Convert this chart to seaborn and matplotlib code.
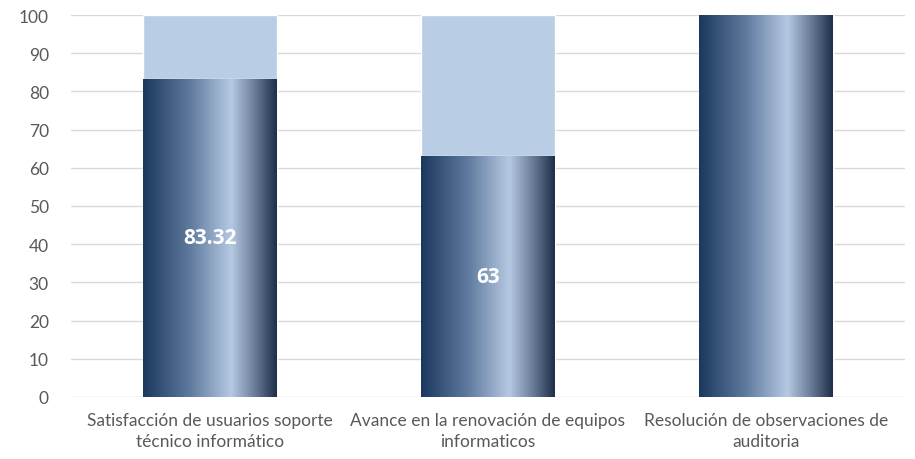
import numpy as np
import pandas as pd
import matplotlib
matplotlib.use("Agg")
import matplotlib.pyplot as plt
from matplotlib.colors import LinearSegmentedColormap
import seaborn as sns

categories = ["Satisfacción de usuarios soporte\ntécnico informático",
              "Avance en la renovación de equipos\ninformaticos",
              "Resolución de observaciones de\nauditoria"]
values = [83.32, 63, 100]
totals = [100, 100, 100]
labels = ["83.32", "63", ""]

sns.set_theme(style="white")
plt.rcParams['font.family'] = ['Lato', 'DejaVu Sans']

df = pd.DataFrame({"cat": categories, "value": values, "total": totals})

fig = plt.figure(figsize=(9.15, 4.6), dpi=100)
ax = fig.add_axes([0.0776, 0.1348, 0.9114, 0.8304])

sns.barplot(data=df, x="cat", y="total", color="#b9cde5", width=0.48,
            saturation=1, ax=ax, zorder=2)
sns.barplot(data=df, x="cat", y="value", color="#1f3864", width=0.48,
            saturation=1, ax=ax, zorder=3)

cmap = LinearSegmentedColormap.from_list("grad", [
    (0.0, (27/255, 56/255, 94/255)),
    (0.35, (95/255, 122/255, 158/255)),
    (0.66, (182/255, 201/255, 227/255)),
    (0.85, (100/255, 118/255, 145/255)),
    (1.0, (30/255, 46/255, 72/255)),
])
grad = np.linspace(0, 1, 256).reshape(1, -1)

n = len(categories)
value_patches = ax.patches[n:]
for p in value_patches:
    x0, y0 = p.get_x(), p.get_y()
    w, h = p.get_width(), p.get_height()
    im = ax.imshow(grad, cmap=cmap, aspect="auto", extent=(x0, x0 + w, y0, y0 + h),
                   zorder=4, interpolation="bicubic")
    im.set_clip_path(p)

for p, lab in zip(value_patches, labels):
    if lab:
        ax.text(p.get_x() + p.get_width() / 2, p.get_height() / 2, lab,
                ha="center", va="center", color="white", fontsize=15,
                fontweight="bold", zorder=6, family=['Open Sans', 'DejaVu Sans'])

ax.set_xlim(-0.5, n - 0.5)
ax.set_ylim(0, 100)
ax.set_yticks(np.arange(0, 101, 10))
ax.yaxis.grid(True, color="#d9d9d9", linewidth=1)
ax.set_axisbelow(True)
for s in ax.spines.values():
    s.set_visible(False)
ax.set_xlabel("")
ax.set_ylabel("")
ax.tick_params(axis="y", length=0, labelsize=12.5, labelcolor="#595959", pad=16)
ax.tick_params(axis="x", length=0, labelsize=12.5, labelcolor="#595959", pad=11)
for t in ax.get_xticklabels():
    t.set_linespacing(1.35)

fig.savefig("out.png", dpi=100)
